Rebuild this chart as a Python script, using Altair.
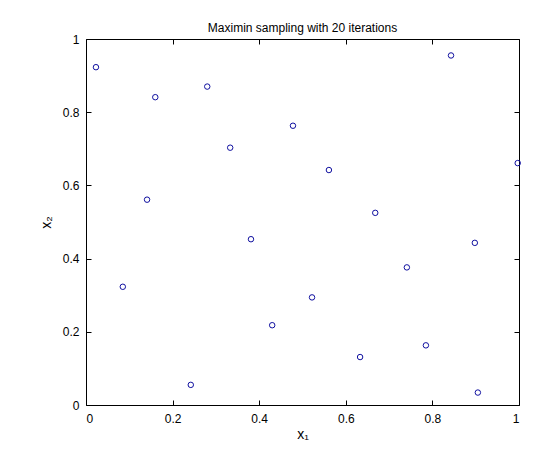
import altair as alt
import pandas as pd

x1 = [0.023, 0.160, 0.280, 0.333, 0.478, 0.141, 0.843, 0.997, 0.561, 0.668,
      0.085, 0.242, 0.381, 0.430, 0.898, 0.741, 0.522, 0.785, 0.633, 0.905]
x2 = [0.923, 0.841, 0.870, 0.703, 0.763, 0.561, 0.955, 0.661, 0.642, 0.525,
      0.323, 0.055, 0.453, 0.218, 0.443, 0.376, 0.294, 0.163, 0.131, 0.034]
tick_vals = [0, 0.2, 0.4, 0.6, 0.8, 1]

df = pd.DataFrame({"x1": x1, "x2": x2})
FONT = "Liberation Sans"

def fmt_expr():
    return "datum.value == 0 || datum.value == 1 ? format(datum.value, 'd') : format(datum.value, '.1f')"

base = alt.Chart(df)

main = base.mark_point(shape="circle", filled=False, size=30, strokeWidth=1,
                       color="#1010a0", opacity=1).encode(
    x=alt.X("x1:Q", scale=alt.Scale(domain=[0, 1], nice=False, zero=False),
            axis=alt.Axis(values=tick_vals, labelExpr=fmt_expr(), title="x₁",
                          orient="bottom", offset=-5, tickSize=5, labelPadding=8,
                          titlePadding=3, domain=False, grid=False,
                          tickColor="black", labelColor="black", titleColor="black",
                          labelFont=FONT, titleFont=FONT, labelFontSize=12,
                          titleFontSize=14, titleFontWeight="normal")),
    y=alt.Y("x2:Q", scale=alt.Scale(domain=[0, 1], nice=False, zero=False),
            axis=alt.Axis(values=tick_vals, labelExpr=fmt_expr(), title="x₂",
                          orient="left", offset=-5, tickSize=5, labelPadding=7,
                          titlePadding=9, domain=False, grid=False,
                          tickColor="black", labelColor="black", titleColor="black",
                          labelFont=FONT, titleFont=FONT, labelFontSize=12,
                          titleFontSize=14, titleFontWeight="normal")),
)

mirror = base.mark_point(opacity=0).encode(
    x=alt.X("x1:Q", scale=alt.Scale(domain=[0, 1], nice=False, zero=False),
            axis=alt.Axis(values=tick_vals, labels=False, title=None, orient="top",
                          offset=-5, tickSize=5, domain=False, grid=False,
                          tickColor="black")),
    y=alt.Y("x2:Q", scale=alt.Scale(domain=[0, 1], nice=False, zero=False),
            axis=alt.Axis(values=tick_vals, labels=False, title=None, orient="right",
                          offset=-5, tickSize=5, domain=False, grid=False,
                          tickColor="black")),
)

chart = alt.layer(main, mirror).resolve_scale(
    x="independent", y="independent"
).properties(
    width=433, height=366,
    title=alt.TitleParams("Maximin sampling with 20 iterations", font=FONT,
                          fontSize=12, fontWeight="normal", color="black",
                          anchor="middle", offset=0, dy=2),
    autosize=alt.AutoSizeParams(type="none"),
    padding={"left": 78, "top": 31, "right": 30, "bottom": 38},
).configure_view(stroke="black", strokeWidth=1)

chart.save("out.html", embed_options={"renderer": "svg", "actions": False})
